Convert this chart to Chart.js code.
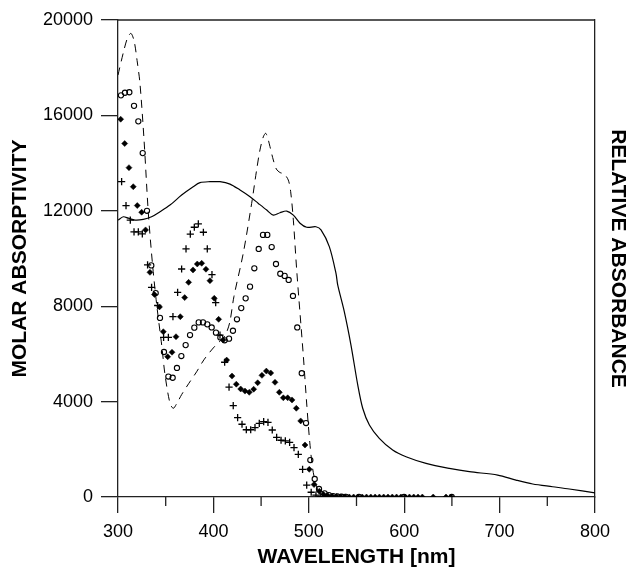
<!DOCTYPE html>
<html>
<head>
<meta charset="utf-8">
<script src="https://cdn.jsdelivr.net/npm/chart.js@4.4.0/dist/chart.umd.min.js"></script>
<style>
  html, body { margin: 0; padding: 0; background: #fff; }
  #spectrum { display: block; }
</style>
</head>
<body>
<canvas id="spectrum" width="631" height="570"></canvas>
<script>
// axis ticks
const xTicks = [300, 400, 500, 600, 700, 800];
const xMinorTicks = [350, 450, 550, 650, 750];
const yTicks = [0, 4000, 8000, 12000, 16000, 20000];

// open circles
const circleWl = [303.1, 307.3, 311.9, 316.8, 321.3, 325.9, 330.4, 334.9, 339.5, 344.0, 348.2, 352.8, 357.3, 361.8, 366.4, 370.9, 375.5, 380.0, 384.6, 389.1, 393.6, 398.2, 402.7, 407.3, 411.8, 416.4, 420.5, 424.7, 429.2, 433.8, 438.4, 442.9, 447.5, 452.0, 456.5, 461.1, 465.6, 470.1, 474.7, 478.9, 483.4, 487.9, 492.6, 497.1, 501.6, 506.2, 510.7, 516.6, 521, 525.5, 530, 534.5, 539, 552.6, 599.8, 649.8];
const circleVal = [16840, 16950, 16970, 16400, 15750, 14420, 12000, 9710, 8550, 7510, 6080, 5050, 5000, 5410, 5910, 6370, 6790, 7100, 7320, 7320, 7240, 7110, 6890, 6690, 6570, 6640, 6970, 7450, 7920, 8330, 8820, 9590, 10400, 10990, 10990, 10480, 9770, 9360, 9270, 9100, 8430, 7110, 5190, 3100, 1550, 755, 335, 155, 80, 40, 20, 10, 5, 0, 0, 0];

// filled diamonds
const diamondWl = [302.8, 307.0, 311.5, 316.0, 320.2, 324.8, 328.9, 333.5, 338.2, 343.5, 347.5, 352.1, 356.6, 360.8, 365.3, 369.9, 374.0, 378.6, 383.1, 387.7, 392.2, 396.4, 400.9, 405.5, 410.1, 413.9, 419.5, 424.0, 428.6, 433.1, 437.6, 442.2, 446.4, 450.9, 455.5, 460.1, 464.6, 469.1, 473.3, 477.9, 482.4, 486.9, 491.5, 496.0, 500.5, 505.5, 511.0, 515.5, 520, 524.5, 529, 533.5, 538, 542.5, 547, 551.5, 556, 560.5, 565, 569.5, 574, 578.5, 583, 587.5, 592, 596.5, 601, 605.5, 610, 614.5, 619, 630.4, 643.8, 649];
const diamondVal = [15840, 14820, 13810, 13010, 12220, 11940, 11200, 9420, 8490, 7970, 6930, 5880, 6070, 6720, 7560, 8360, 9000, 9520, 9770, 9800, 9550, 9070, 8330, 7450, 6580, 5740, 5070, 4730, 4530, 4440, 4390, 4520, 4790, 5100, 5280, 5200, 4810, 4390, 4160, 4160, 4070, 3720, 3190, 2180, 1160, 520, 240, 110, 50, 30, 20, 10, 10, 0, 0, 0, 0, 0, 0, 0, 0, 0, 0, 0, 0, 0, 0, 0, 0, 0, 0, 0, 0, 0];

// plus markers
const plusWl = [303.8, 308.4, 312.9, 316.8, 321.3, 325.5, 331.0, 335.2, 341.6, 347.8, 352.8, 357.6, 362.5, 366.7, 371.3, 375.8, 380.0, 384.2, 389.5, 393.6, 398.5, 402.4, 406.9, 411.8, 416.4, 420.8, 425.4, 430.0, 434.5, 439.1, 443.6, 448.1, 452.7, 457.2, 461.7, 466.3, 470.9, 475.4, 479.9, 484.5, 489.0, 493.5, 497.8, 502.5, 507.5, 512, 516.5];
const plusVal = [13220, 12220, 11610, 11120, 11120, 11030, 9730, 8790, 8030, 6690, 6690, 7560, 8580, 9560, 10400, 11020, 11310, 11450, 11100, 10400, 9320, 8150, 6790, 5650, 4610, 3830, 3330, 3050, 2820, 2820, 2910, 3090, 3160, 3130, 2810, 2500, 2380, 2350, 2290, 2070, 1790, 1160, 500, 200, 80, 30, 10];

// dashed curve
const dashWl = [300, 306, 310, 313.6, 317, 320, 323, 327.3, 331.8, 336.4, 340.6, 345.8, 349.3, 354.5, 358, 362, 366.8, 374, 382.4, 390, 399.9, 406, 412, 417, 421.5, 431.3, 440.1, 445.3, 448.8, 452.3, 454.8, 457, 459.3, 462.8, 466, 470, 474, 478.5, 481, 483.8, 487.3, 490.8, 494.3, 498, 501, 504, 507, 510, 515, 520];
const dashVal = [17690, 18700, 19250, 19440, 19100, 18300, 17350, 14970, 11900, 9660, 8050, 6370, 5120, 3930, 3720, 3950, 4300, 4750, 5250, 5750, 6250, 6500, 6750, 7300, 8400, 10220, 12310, 13710, 14550, 15100, 15250, 15050, 14690, 14130, 13750, 13600, 13550, 13290, 12800, 11610, 9520, 7700, 5900, 3800, 2300, 1200, 600, 250, 60, 0];

// solid curve
const solidWl = [300, 305.6, 310.8, 317.8, 326.5, 335.2, 344.0, 354.5, 366.7, 378.8, 386, 396.4, 406.9, 417.4, 427.9, 438.4, 447.1, 455.9, 462.8, 469.8, 476.8, 483.8, 490.8, 497.8, 507.5, 512.8, 521.5, 528.5, 530.3, 537.2, 544.2, 551.3, 556.5, 563.5, 573.9, 587.9, 601.9, 622.9, 647.3, 668.3, 698.0, 717.2, 734.7, 755.6, 773.1, 800];
const solidVal = [11610, 11750, 11690, 11610, 11640, 11750, 11960, 12240, 12660, 13010, 13180, 13220, 13220, 13120, 12870, 12590, 12310, 12030, 11820, 11920, 11990, 11820, 11480, 11310, 11330, 11200, 10500, 9380, 8890, 7770, 6370, 4700, 3720, 3020, 2460, 1970, 1690, 1410, 1200, 1060, 920, 710, 545, 430, 335, 170];

function pairs(xs, ys) {
    return xs.map((x, i) => ({ x: x, y: ys[i] }));
}

const fontFamily = '"Liberation Sans", Arial, sans-serif';
const axisColor = '#222';

// draws the top edge and the short minor ticks on the x axis
const framePlugin = {
    id: 'frame',
    afterDraw: function (chart) {
        const ctx = chart.ctx;
        const area = chart.chartArea;
        const xScale = chart.scales.x;
        ctx.save();
        ctx.strokeStyle = axisColor;
        ctx.lineWidth = 1.3;
        ctx.beginPath();
        ctx.moveTo(area.left, area.top);
        ctx.lineTo(area.right, area.top);
        xMinorTicks.forEach(v => {
            const px = xScale.getPixelForValue(v);
            ctx.moveTo(px, area.bottom);
            ctx.lineTo(px, area.bottom + 9);
        });
        ctx.stroke();
        ctx.restore();
    }
};

new Chart(document.getElementById('spectrum').getContext('2d'), {
    type: 'scatter',
    data: {
        datasets: [
            {
                label: 'solid',
                data: pairs(solidWl, solidVal),
                showLine: true,
                borderColor: '#000',
                borderWidth: 1.2,
                pointRadius: 0,
                tension: 0.3
            },
            {
                label: 'dashed',
                data: pairs(dashWl, dashVal),
                showLine: true,
                borderColor: '#000',
                borderWidth: 1,
                borderDash: [8, 6],
                pointRadius: 0,
                tension: 0.3
            },
            {
                label: 'circles',
                data: pairs(circleWl, circleVal),
                pointStyle: 'circle',
                pointRadius: 2.6,
                borderColor: '#000',
                borderWidth: 1.1,
                backgroundColor: 'rgba(0,0,0,0)'
            },
            {
                label: 'diamonds',
                data: pairs(diamondWl, diamondVal),
                pointStyle: 'rectRot',
                pointRadius: 3,
                borderColor: '#000',
                borderWidth: 0.5,
                backgroundColor: '#000'
            },
            {
                label: 'plus',
                data: pairs(plusWl, plusVal),
                pointStyle: 'cross',
                pointRadius: 3.6,
                borderColor: '#000',
                borderWidth: 1.3
            }
        ]
    },
    options: {
        responsive: false,
        animation: false,
        layout: { padding: { top: 20, left: 0, right: 0, bottom: 0 } },
        plugins: {
            legend: { display: false },
            tooltip: { enabled: false }
        },
        scales: {
            x: {
                type: 'linear',
                min: 300,
                max: 800,
                afterBuildTicks: scale => { scale.ticks = xTicks.map(v => ({ value: v })); },
                ticks: {
                    color: '#000',
                    padding: 8,
                    font: { family: fontFamily, size: 18 },
                    callback: value => String(value)
                },
                grid: { drawOnChartArea: false, tickLength: 16, color: axisColor, lineWidth: 1.3 },
                border: { color: axisColor, width: 1.3 },
                title: {
                    display: true,
                    text: 'WAVELENGTH [nm]',
                    color: '#000',
                    padding: { top: 0, bottom: 0 },
                    font: { family: fontFamily, size: 21, weight: 'bold', lineHeight: 1.2 }
                },
                afterFit: scale => { scale.height = 73; }
            },
            y: {
                type: 'linear',
                min: 0,
                max: 20000,
                afterBuildTicks: scale => { scale.ticks = yTicks.map(v => ({ value: v })); },
                ticks: {
                    color: '#000',
                    padding: 8,
                    font: { family: fontFamily, size: 18 },
                    callback: value => String(value)
                },
                grid: { drawOnChartArea: false, tickLength: 17, color: axisColor, lineWidth: 1.3 },
                border: { color: axisColor, width: 1.3 },
                title: {
                    display: true,
                    text: 'MOLAR ABSORPTIVITY',
                    color: '#000',
                    padding: { top: 8, bottom: 0 },
                    font: { family: fontFamily, size: 21, weight: 'bold', lineHeight: 1.2 }
                },
                afterFit: scale => { scale.width = 118; }
            },
            y2: {
                type: 'linear',
                position: 'right',
                min: 0,
                max: 1,
                ticks: { display: false },
                grid: { display: false },
                border: { color: axisColor, width: 1.3 },
                title: {
                    display: true,
                    text: 'RELATIVE ABSORBANCE',
                    color: '#000',
                    padding: { top: 1, bottom: 0 },
                    font: { family: fontFamily, size: 21, weight: 'bold', lineHeight: 1.2 }
                },
                afterFit: scale => { scale.width = 36; }
            }
        }
    },
    plugins: [framePlugin]
});
</script>
</body>
</html>
